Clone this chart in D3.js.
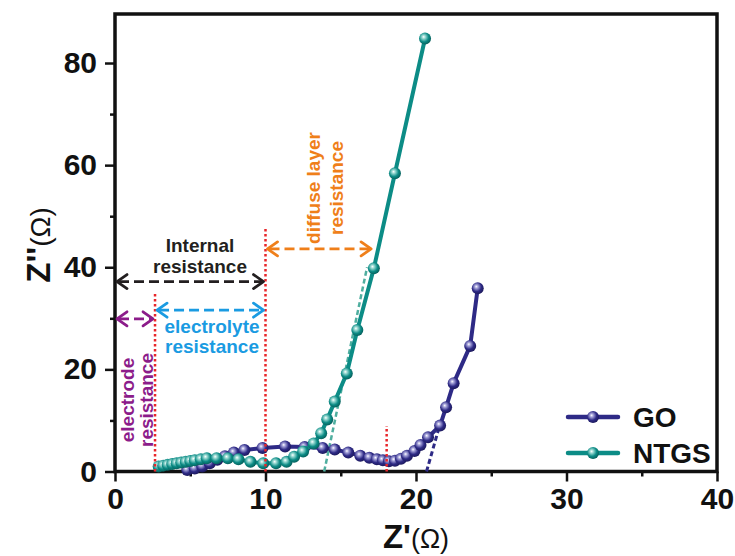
<!DOCTYPE html>
<html>
<head>
<meta charset="utf-8">
<script src="https://cdn.jsdelivr.net/npm/d3@7"></script>
<style>
  body { margin: 0; background: #fff; }
  svg { display: block; font-family: "Liberation Sans", Arial, sans-serif; }
  .axis path, .axis line { stroke: #111; }
  .axis text { font-weight: bold; font-size: 30px; fill: #111; }
</style>
</head>
<body>
<svg width="735" height="556"></svg>
<script>

//
// Nyquist data
//
var goX = [4.8, 5.3, 5.8, 6.3, 6.8, 7.3, 7.9, 8.6, 9.8, 11.3, 12.6, 13.8, 14.6, 15.5, 16.3, 16.9, 17.4, 17.8, 18.2, 18.6, 19.0, 19.4, 19.9, 20.3, 20.8, 21.6, 22.0, 22.5, 23.6, 24.1];
var goY = [0.3, 0.6, 1.0, 1.6, 2.3, 3.0, 3.7, 4.2, 4.6, 4.9, 4.8, 4.6, 4.3, 3.7, 3.1, 2.7, 2.4, 2.2, 2.0, 2.1, 2.5, 3.1, 4.0, 5.2, 6.7, 9.0, 12.6, 17.3, 24.6, 35.9];

var ntgsX = [2.9, 3.2, 3.5, 3.8, 4.1, 4.4, 4.7, 5.0, 5.3, 5.7, 6.1, 6.75, 7.5, 8.2, 9.0, 9.85, 10.7, 11.4, 11.9, 12.5, 13.2, 13.7, 14.1, 14.6, 15.4, 16.1, 17.2, 18.6, 20.6];
var ntgsY = [1.0, 1.15, 1.3, 1.45, 1.6, 1.75, 1.9, 2.05, 2.2, 2.4, 2.6, 2.6, 2.6, 2.4, 1.9, 1.6, 1.6, 1.9, 2.9, 3.9, 5.5, 7.5, 10.2, 13.7, 19.2, 27.7, 39.8, 58.4, 84.8];

var xTicks = [0, 10, 20, 30, 40];
var yTicks = [0, 20, 40, 60, 80];

// fitted straight lines (x0,y0,x1,y1)
var ntgsFit = [13.9, 0, 16.75, 40];
var goFit = [20.7, 0, 21.55, 8.8];

// red dotted markers: x, top y
var dotX = [2.66, 10, 18.05];
var dotTop = [35, 47.9, 8.9];

var svg = d3.select("svg"),
    width = +svg.attr("width"),
    height = +svg.attr("height");

var margin = {left: 115, right: 18, top: 14, bottom: 84.5};

var x = d3.scaleLinear().domain([0, 40]).range([margin.left, width - margin.right]);
var y = d3.scaleLinear().domain([0, 89.6]).range([height - margin.bottom, margin.top]);

var colors = {go: "#2e2a86", ntgs: "#0c8c86"};

//
// sphere-like markers
//
var defs = svg.append("defs");
function sphere(id, light, base, dark) {
  var g = defs.append("radialGradient").attr("id", id)
      .attr("cx", "42%").attr("cy", "40%").attr("r", "60%")
      .attr("fx", "38%").attr("fy", "36%");
  g.append("stop").attr("offset", "0%").attr("stop-color", "#ffffff");
  g.append("stop").attr("offset", "22%").attr("stop-color", light);
  g.append("stop").attr("offset", "65%").attr("stop-color", base);
  g.append("stop").attr("offset", "100%").attr("stop-color", dark);
}
sphere("ballGO", "#a9a7dc", colors.go, "#1d1a5e");
sphere("ballNT", "#9fdcd5", colors.ntgs, "#06615d");

// axes
var xAxis = d3.axisBottom(x).tickValues(d3.range(0, 41, 5)).tickSize(10).tickPadding(6)
    .tickSizeOuter(0).tickFormat(function (d) { return xTicks.indexOf(d) >= 0 ? d : ""; });
var yAxis = d3.axisLeft(y).tickValues(d3.range(0, 81, 10)).tickSize(10).tickPadding(8)
    .tickSizeOuter(0).tickFormat(function (d) { return yTicks.indexOf(d) >= 0 ? d : ""; });

var gx = svg.append("g").attr("class", "axis")
    .attr("transform", "translate(0," + y(0) + ")").call(xAxis);
var gy = svg.append("g").attr("class", "axis")
    .attr("transform", "translate(" + x(0) + ",0)").call(yAxis);
gx.select(".domain").remove();
gy.select(".domain").remove();
[gx, gy].forEach(function (g) {
  g.selectAll(".tick line").attr("stroke-width", 2.5)
    .attr(g === gx ? "y2" : "x2", function (d) {
      var major = d % 20 === 0 || (g === gx && d % 10 === 0);
      var len = major ? 10 : 5;
      return g === gx ? len : -len;
    });
});

// frame
svg.append("rect")
    .attr("x", x(0)).attr("y", y(89.6))
    .attr("width", x(40) - x(0)).attr("height", y(0) - y(89.6))
    .attr("fill", "none").attr("stroke", "#111").attr("stroke-width", 3.5);

// axis titles
var xt = svg.append("text").attr("x", x(20)).attr("y", 548).attr("text-anchor", "middle").attr("fill", "#111");
xt.append("tspan").attr("font-weight", "bold").attr("font-size", 33).text("Z'");
xt.append("tspan").attr("font-size", 27).text("(Ω)");

var yt = svg.append("text").attr("transform", "translate(50,245) rotate(-90)")
    .attr("text-anchor", "middle").attr("fill", "#111");
yt.append("tspan").attr("font-weight", "bold").attr("font-size", 33).text("Z''");
yt.append("tspan").attr("font-size", 28).text("(Ω)");

//
// fitted dashed lines
//
svg.append("line")
    .attr("x1", x(ntgsFit[0])).attr("y1", y(ntgsFit[1]))
    .attr("x2", x(ntgsFit[2])).attr("y2", y(ntgsFit[3]))
    .attr("stroke", "#4fae9f").attr("stroke-width", 2.5).attr("stroke-dasharray", "5,3");
svg.append("line")
    .attr("x1", x(goFit[0])).attr("y1", y(goFit[1]))
    .attr("x2", x(goFit[2])).attr("y2", y(goFit[3]))
    .attr("stroke", colors.go).attr("stroke-width", 3).attr("stroke-dasharray", "5,3");

//
// series
//
var line = d3.line().x(function (d) { return x(d[0]); }).y(function (d) { return y(d[1]); });

function drawSeries(xs, ys, color, ball) {
  var pts = d3.zip(xs, ys);
  svg.append("path").datum(pts)
      .attr("d", line).attr("fill", "none")
      .attr("stroke", color).attr("stroke-width", 4).attr("stroke-linejoin", "round");
  svg.selectAll(null).data(pts).enter().append("circle")
      .attr("cx", function (d) { return x(d[0]); })
      .attr("cy", function (d) { return y(d[1]); })
      .attr("r", 6)
      .attr("fill", "url(#" + ball + ")");
}
drawSeries(goX, goY, colors.go, "ballGO");
drawSeries(ntgsX, ntgsY, colors.ntgs, "ballNT");

//
// red dotted guides
//
dotX.forEach(function (d, i) {
  svg.append("line")
      .attr("x1", x(d)).attr("x2", x(d))
      .attr("y1", y(0)).attr("y2", y(dotTop[i]))
      .attr("stroke", "#e8262a").attr("stroke-width", 2.5).attr("stroke-dasharray", "2.5,2.5");
});

//
// double arrows
//
function arrow(x1, x2, yv, color) {
  var px1 = x(x1) + 2, px2 = x(x2) - 2, py = y(yv);
  svg.append("line").attr("x1", px1 + 2).attr("x2", px2 - 2).attr("y1", py).attr("y2", py)
      .attr("stroke", color).attr("stroke-width", 2.8).attr("stroke-dasharray", "10,5");
  var h = 10, w = 7;
  svg.append("path")
      .attr("d", "M" + (px1 + h) + "," + (py - w) + "L" + px1 + "," + py + "L" + (px1 + h) + "," + (py + w) +
                 "M" + (px2 - h) + "," + (py - w) + "L" + px2 + "," + py + "L" + (px2 - h) + "," + (py + w))
      .attr("fill", "none").attr("stroke", color).attr("stroke-width", 2.8)
      .attr("stroke-linejoin", "round").attr("stroke-linecap", "round");
}

var ink = {black: "#231f20", purple: "#8c1c8a", blue: "#1a9be2", orange: "#ef7f1a"};

arrow(0, 10, 37.2, ink.black);
arrow(0, 2.66, 29.9, ink.purple);
arrow(2.66, 10, 31.6, ink.blue);
arrow(10, 17.15, 43.6, ink.orange);

function label(lines, px, py, color, rotate, gap) {
  var t = svg.append("text")
      .attr("transform", "translate(" + px + "," + py + ")" + (rotate ? " rotate(-90)" : ""))
      .attr("text-anchor", "middle").attr("font-weight", "bold").attr("font-size", 19)
      .attr("fill", color);
  lines.forEach(function (s, i) {
    t.append("tspan").attr("x", 0).attr("y", i * gap).text(s);
  });
}

label(["Internal", "resistance"], 200, 252, ink.black, false, 21);
label(["electrolyte", "resistance"], 212, 333, ink.blue, false, 20);
label(["electrode", "resistance"], 134, 400, ink.purple, true, 19);
label(["diffuse layer", "resistance"], 320, 188, ink.orange, true, 23);

//
// legend
//
var legend = [{name: "GO", color: colors.go, ball: "ballGO", y: 417},
              {name: "NTGS", color: colors.ntgs, ball: "ballNT", y: 453}];
legend.forEach(function (d) {
  svg.append("line").attr("x1", 568).attr("x2", 618).attr("y1", d.y).attr("y2", d.y)
      .attr("stroke", d.color).attr("stroke-width", 4.5).attr("stroke-linecap", "round");
  svg.append("circle").attr("cx", 593).attr("cy", d.y).attr("r", 6).attr("fill", "url(#" + d.ball + ")");
  svg.append("text").attr("x", 633).attr("y", d.y + 10)
      .attr("font-weight", "bold").attr("font-size", 28).attr("fill", "#111").text(d.name);
});

</script>
</body>
</html>
